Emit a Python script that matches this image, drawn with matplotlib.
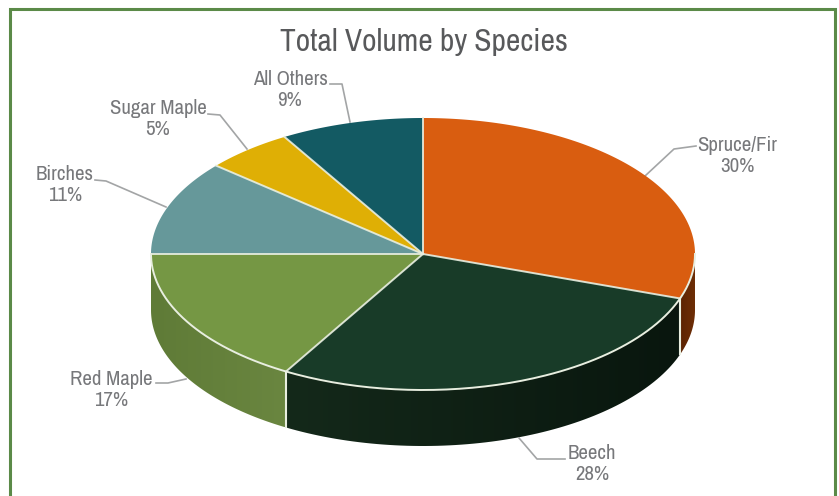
import numpy as np
import matplotlib
matplotlib.use("Agg")
import matplotlib.pyplot as plt
from matplotlib.patches import Polygon

species = ["Spruce/Fir", "Beech", "Red Maple", "Birches", "Sugar Maple", "All Others"]
percent_labels = ["30%", "28%", "17%", "11%", "5%", "9%"]
# slice sizes read from the rim, slightly finer than the printed labels
shares = [30.3, 28.1, 16.6, 11.25, 5.25, 8.5]
top_colors = ["#d95d10", "#183b28", "#759744", "#66989a", "#dfaf05", "#135a63"]
side_left = ["#5c2303", "#14291a", "#5f7b37", "#4f7677", "#a8830a", "#0e444b"]
side_right = ["#6e2e06", "#09160e", "#6a8640", "#4f7677", "#a8830a", "#0e444b"]

# where each label sits and the elbow of its leader line, in pixels
label_xy = [(737, 156), (592, 464), (111, 390), (65, 185), (158, 119), (290, 90)]
leaders = [
    [(696, 146), (674, 149), (645, 176)],
    [(565, 459), (537, 459), (519, 438)],
    [(156, 383), (168, 383), (186, 379)],
    [(95, 180), (106, 181), (166, 207)],
    [(208, 114), (220, 115), (247, 149)],
    [(330, 84), (342, 84), (350, 122)],
]

cx, cy, rx, ry, depth = 423, 254, 272, 136, 56
green = "#5b8a48"
edge = "#e8eee0"

plt.rcParams['font.family'] = ['Archivo Narrow', 'Liberation Sans', 'DejaVu Sans']
fig = plt.figure(figsize=(8.39, 4.96), dpi=100)
ax = fig.add_axes([0, 0, 1, 1])
ax.set_xlim(0, 839)
ax.set_ylim(496, 0)
ax.axis("off")


def rim(t):
    t = np.radians(t)
    return cx + rx * np.sin(t), cy - ry * np.cos(t)


# frame, open at the bottom like the source
ax.plot([10, 10, 835, 835], [496, 8.5, 8.5, 496], color=green, lw=2.2, solid_joinstyle="miter")

angles = 3.6 * np.cumsum([0] + shares)

# side wall first, a clipped horizontal gradient per slice
for i in range(len(shares)):
    a0, a1 = max(angles[i], 90), min(angles[i + 1], 270)
    if a1 <= a0:
        continue
    t = np.linspace(a0, a1, 80)
    xs, ys = rim(t)
    pts = np.r_[np.column_stack([xs, ys]), np.column_stack([xs, ys + depth])[::-1]]
    cmap = matplotlib.colors.LinearSegmentedColormap.from_list("s", [side_left[i], side_right[i]])
    im = ax.imshow(np.linspace(0, 1, 256)[None, :], cmap=cmap, aspect="auto", zorder=2,
                   extent=[xs.min(), xs.max(), ys.max() + depth, ys.min()])
    im.set_clip_path(Polygon(pts, closed=True, transform=ax.transData))
    if a0 > 90:
        x, y = rim(a0)
        ax.plot([x, x], [y, y + depth], color=edge, lw=1.5, zorder=3)
ax.set_xlim(0, 839)
ax.set_ylim(496, 0)

# top face
for i in range(len(shares)):
    t = np.linspace(angles[i], angles[i + 1], 120)
    xs, ys = rim(t)
    pts = np.column_stack([np.r_[cx, xs], np.r_[cy, ys]])
    ax.add_patch(Polygon(pts, closed=True, facecolor=top_colors[i], edgecolor="none", zorder=4))
for i in range(len(shares)):
    x, y = rim(angles[i])
    ax.plot([cx, x], [cy, y], color=edge, lw=1.4, zorder=5, alpha=0.9)
t = np.linspace(90, 270, 200)
xs, ys = rim(t)
ax.plot(xs, ys, color=edge, lw=1.4, zorder=5)

# labels
for name, pct, (lx, ly), line in zip(species, percent_labels, label_xy, leaders):
    ax.text(lx, ly - 10.5, name, ha="center", va="center", fontsize=15, color="#77787b", zorder=6)
    ax.text(lx, ly + 10.5, pct, ha="center", va="center", fontsize=15, color="#77787b", zorder=6)
    ax.plot([p[0] for p in line], [p[1] for p in line], color="#a3a5a6", lw=1.2, zorder=3.5)

ax.text(424, 42, "Total Volume by Species", ha="center", va="center", fontsize=22.7, color="#58595b")

fig.savefig("out.png", dpi=100)
